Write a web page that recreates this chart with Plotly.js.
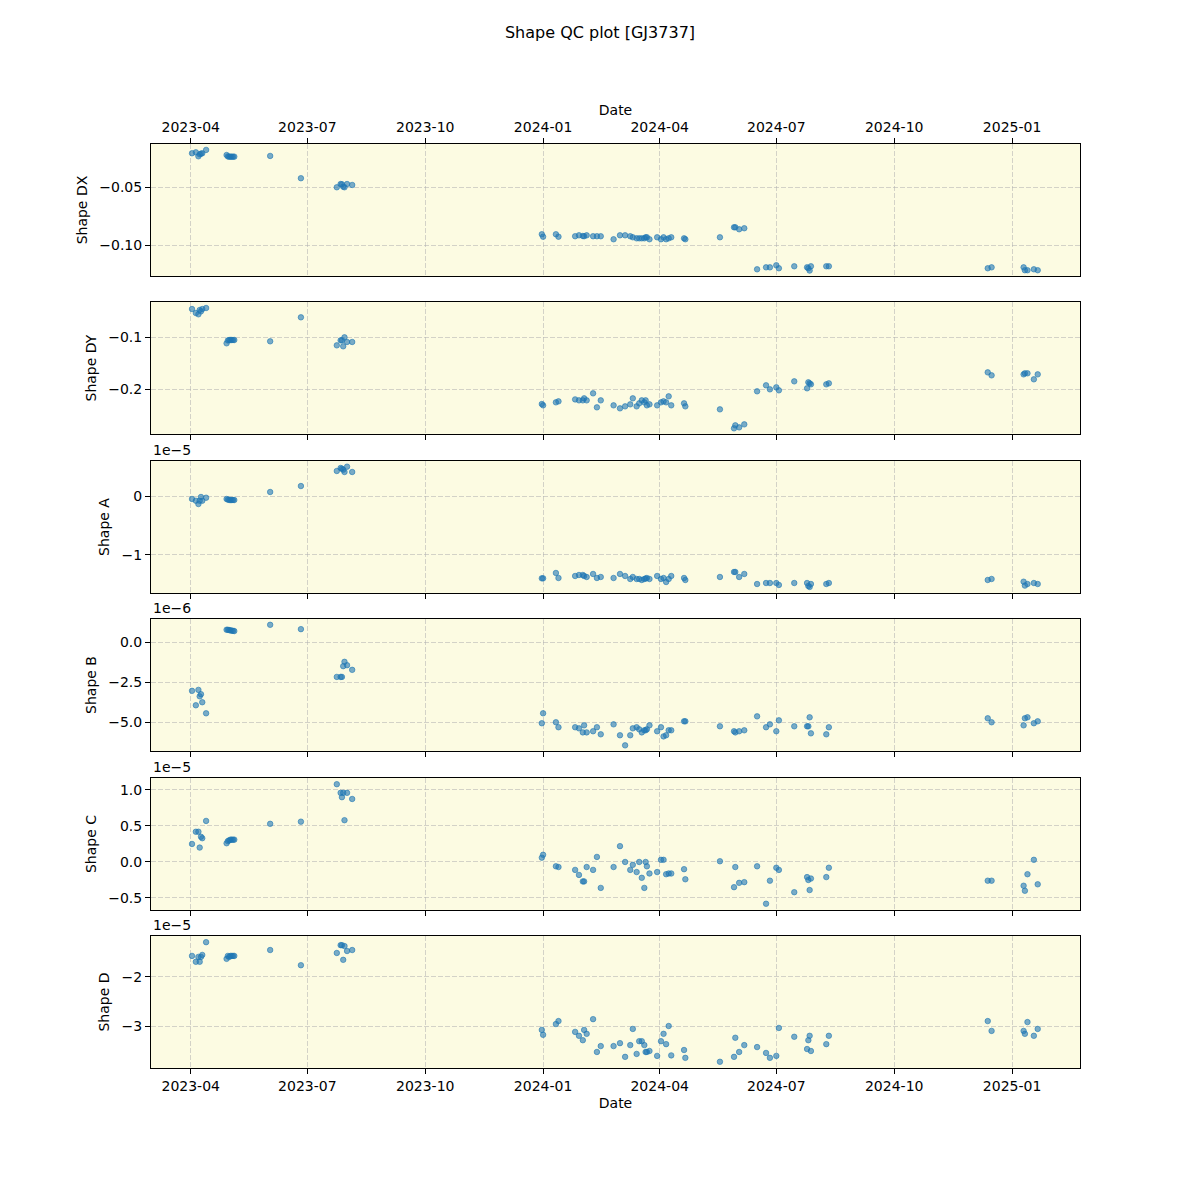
<!DOCTYPE html>
<html>
<head>
<meta charset="utf-8">
<script src="https://cdn.plot.ly/plotly-3.0.1.min.js"></script>
<style>body{margin:0;padding:0;background:#fff;} #chart{width:1200px;height:1200px;}</style>
</head>
<body>
<div id="chart"></div>
<script>
// Observation dates
const dates = [
  '2023-04-02','2023-04-05','2023-04-07','2023-04-08','2023-04-09','2023-04-10','2023-04-13',
  '2023-04-29','2023-04-30','2023-05-01','2023-05-02','2023-05-03','2023-05-04','2023-05-05',
  '2023-06-02','2023-06-26',
  '2023-07-24','2023-07-27','2023-07-28','2023-07-29','2023-07-30','2023-08-01','2023-08-05',
  '2023-12-31','2024-01-01','2024-01-11','2024-01-13','2024-01-26','2024-01-29','2024-02-01','2024-02-02',
  '2024-02-04','2024-02-09','2024-02-12','2024-02-15','2024-02-25','2024-03-01','2024-03-05','2024-03-09',
  '2024-03-11','2024-03-14','2024-03-16','2024-03-18','2024-03-20','2024-03-21','2024-03-22','2024-03-24',
  '2024-03-30','2024-04-02','2024-04-04','2024-04-06','2024-04-08','2024-04-10','2024-04-20','2024-04-21',
  '2024-05-18','2024-05-29','2024-05-30','2024-06-02','2024-06-06','2024-06-16','2024-06-23','2024-06-26',
  '2024-07-01','2024-07-03','2024-07-15','2024-07-25','2024-07-26','2024-07-27','2024-07-28','2024-08-09',
  '2024-08-11','2024-12-13','2024-12-16','2025-01-10','2025-01-11','2025-01-13','2025-01-18','2025-01-21'
];

const shapeDX = [
  -0.0207,-0.0199,-0.0233,-0.0216,-0.0210,-0.0207,-0.0178,
  -0.0222,-0.0234,-0.0236,-0.0236,-0.0236,-0.0236,-0.0236,
  -0.0230,-0.0422,
  -0.0500,-0.0472,-0.0474,-0.0495,-0.0500,-0.0472,-0.0480,
  -0.0905,-0.0926,-0.0905,-0.0926,-0.0922,-0.0914,-0.0920,-0.0922,
  -0.0914,-0.0922,-0.0922,-0.0922,-0.0948,-0.0914,-0.0914,-0.0922,
  -0.0931,-0.0940,-0.0940,-0.0940,-0.0940,-0.0931,-0.0931,-0.0948,
  -0.0931,-0.0948,-0.0931,-0.0948,-0.0940,-0.0931,-0.0940,-0.0948,
  -0.0931,-0.0845,-0.0845,-0.0862,-0.0853,-0.1207,-0.1190,-0.1190,
  -0.1172,-0.1198,-0.1181,-0.1190,-0.1198,-0.1218,-0.1181,-0.1181,
  -0.1181,-0.1198,-0.1190,-0.1190,-0.1215,-0.1215,-0.1207,-0.1215
];

const shapeDY = [
  -0.0453,-0.0530,-0.0555,-0.0472,-0.0497,-0.0453,-0.0433,
  -0.1116,-0.1060,-0.1052,-0.1052,-0.1052,-0.1052,-0.1052,
  -0.1077,-0.0613,
  -0.1155,-0.1058,-0.1058,-0.1174,-0.1000,-0.1090,-0.1090,
  -0.2290,-0.2315,-0.2257,-0.2238,-0.2200,-0.2219,-0.2219,-0.2180,
  -0.2219,-0.2083,-0.2354,-0.2219,-0.2315,-0.2373,-0.2335,-0.2296,
  -0.2180,-0.2335,-0.2277,-0.2219,-0.2257,-0.2219,-0.2315,-0.2296,
  -0.2315,-0.2257,-0.2238,-0.2257,-0.2141,-0.2315,-0.2277,-0.2335,
  -0.2393,-0.2760,-0.2702,-0.2741,-0.2683,-0.2044,-0.1928,-0.2006,
  -0.1967,-0.2025,-0.1851,-0.1986,-0.1870,-0.1890,-0.1909,-0.1909,
  -0.1890,-0.1677,-0.1735,-0.1716,-0.1696,-0.1696,-0.1812,-0.1716
];

// Shape A, in units of 1e-5
const shapeA = [
  -0.051,-0.080,-0.136,-0.080,-0.017,-0.080,-0.029,
  -0.051,-0.060,-0.068,-0.068,-0.068,-0.068,-0.068,
  0.068,0.169,
  0.424,0.475,0.463,0.446,0.407,0.497,0.407,
  -1.396,-1.396,-1.305,-1.390,-1.356,-1.339,-1.339,-1.356,
  -1.373,-1.322,-1.390,-1.373,-1.390,-1.322,-1.356,-1.407,
  -1.373,-1.407,-1.407,-1.424,-1.407,-1.400,-1.390,-1.407,
  -1.356,-1.407,-1.390,-1.458,-1.407,-1.356,-1.390,-1.424,
  -1.373,-1.288,-1.288,-1.373,-1.322,-1.492,-1.475,-1.475,
  -1.475,-1.508,-1.475,-1.475,-1.525,-1.542,-1.492,-1.492,
  -1.475,-1.424,-1.407,-1.453,-1.519,-1.492,-1.475,-1.492
];

// Shape B, in units of 1e-6
const shapeB = [
  -3.04,-3.94,-2.98,-3.38,-3.25,-3.75,-4.44,
  0.77,0.77,0.75,0.73,0.72,0.70,0.69,
  1.08,0.81,
  -2.17,-2.17,-2.17,-1.50,-1.23,-1.44,-1.73,
  -5.06,-4.44,-5.00,-5.31,-5.31,-5.38,-5.63,-5.19,
  -5.63,-5.56,-5.31,-5.75,-5.13,-5.81,-6.44,-5.81,
  -5.38,-5.31,-5.44,-5.63,-5.50,-5.50,-5.44,-5.19,
  -5.56,-5.31,-5.88,-5.81,-5.50,-5.50,-4.94,-4.94,
  -5.25,-5.56,-5.63,-5.56,-5.50,-4.63,-5.31,-5.13,
  -5.56,-4.88,-5.25,-5.25,-5.25,-4.69,-5.69,-5.75,
  -5.31,-4.75,-5.00,-5.19,-4.75,-4.69,-5.06,-4.94
];

// Shape C, in units of 1e-5
const shapeC = [
  0.25,0.42,0.42,0.20,0.35,0.33,0.57,
  0.26,0.29,0.30,0.31,0.31,0.31,0.31,
  0.53,0.56,
  1.08,0.96,0.90,0.96,0.58,0.96,0.875,
  0.06,0.10,-0.06,-0.07,-0.11,-0.18,-0.27,-0.27,
  -0.07,-0.11,0.07,-0.36,-0.07,0.22,0.00,-0.11,
  -0.04,-0.14,0.00,-0.22,-0.36,0.00,-0.06,-0.16,
  -0.14,0.03,0.03,-0.17,-0.16,-0.16,-0.10,-0.24,
  0.01,-0.35,-0.07,-0.29,-0.28,-0.06,-0.58,-0.26,
  -0.08,-0.11,-0.42,-0.21,-0.25,-0.39,-0.23,-0.21,
  -0.08,-0.26,-0.26,-0.33,-0.40,-0.17,0.03,-0.31
];

// Shape D, in units of 1e-5
const shapeD = [
  -1.57,-1.69,-1.59,-1.69,-1.59,-1.55,-1.29,
  -1.63,-1.57,-1.59,-1.57,-1.57,-1.57,-1.57,
  -1.45,-1.76,
  -1.51,-1.35,-1.35,-1.65,-1.37,-1.47,-1.45,
  -3.08,-3.18,-2.96,-2.90,-3.12,-3.20,-3.29,-3.08,
  -3.16,-2.86,-3.53,-3.41,-3.41,-3.35,-3.63,-3.39,
  -3.06,-3.57,-3.31,-3.31,-3.39,-3.53,-3.53,-3.51,
  -3.61,-3.31,-3.16,-3.37,-3.00,-3.60,-3.49,-3.65,
  -3.73,-3.63,-3.24,-3.53,-3.39,-3.43,-3.55,-3.65,
  -3.61,-3.04,-3.22,-3.47,-3.29,-3.20,-3.51,-3.37,
  -3.20,-2.90,-3.10,-3.10,-3.16,-2.92,-3.20,-3.06
];

const panelLabels = ['Shape DX','Shape DY','Shape A','Shape B','Shape C','Shape D'];
const exponentLabels = ['', '', '1e\u22125', '1e\u22126', '1e\u22125', '1e\u22125'];
const series = [shapeDX, shapeDY, shapeA, shapeB, shapeC, shapeD];

const font = 'DejaVu Sans, sans-serif';
const domains = [[0.8571,1.0],[0.6861,0.829],[0.5141,0.6569],[0.3431,0.4859],[0.171,0.3139],[0.0,0.1429]];
const yRanges = [[-0.1265,-0.0127],[-0.287,-0.0317],[-1.644,0.593],[-6.79,1.44],[-0.667,1.167],[-3.857,-1.163]];
const yTicks = [
  {dtick:0.05, tickformat:'.2f', tick0:0},
  {dtick:0.1, tickformat:'.1f', tick0:0},
  {dtick:1, tickformat:'d', tick0:0},
  {dtick:2.5, tickformat:'.1f', tick0:0},
  {dtick:0.5, tickformat:'.1f', tick0:0},
  {dtick:1, tickformat:'d', tick0:0}
];

const traces = [];
const layout = {
  width:1200, height:1200,
  paper_bgcolor:'#ffffff',
  plot_bgcolor:'#fcfbe2',
  margin:{l:151, r:120, t:144, b:132},
  showlegend:false,
  font:{family:font, size:14, color:'#000'},
  title:{text:'Shape QC plot [GJ3737]', x:0.5, xanchor:'center', y:1-32/1200, yanchor:'middle', font:{family:font, size:16, color:'#000'}},
  annotations:[]
};

const gridColor = 'rgba(176,176,176,0.55)';

for (let i = 0; i < 6; i++) {
  const n = i === 0 ? '' : String(i+1);
  traces.push({
    type:'scatter', mode:'markers',
    x: dates, y: series[i],
    xaxis:'x'+n, yaxis:'y'+n,
    marker:{color:'rgba(31,119,180,0.6)', size:5.5, line:{color:'rgba(31,119,180,0.75)', width:0.8}},
    hoverinfo:'skip'
  });
  const xa = {
    domain:[0,1], anchor:'y'+n,
    type:'date',
    range:['2023-03-01','2025-02-23'],
    tick0:'2023-01-01', dtick:'M3', tickformat:'%Y-%m',
    showgrid:true, gridcolor:gridColor, griddash:'5px,2px', gridwidth:1,
    showline:true, linecolor:'#000', linewidth:1, mirror:true,
    ticks:'outside', ticklen:5, tickcolor:'#000', tickwidth:1,
    zeroline:false,
    tickfont:{family:font, size:14, color:'#000'}
  };
  if (i > 0) xa.matches = 'x';
  if (i === 0) {
    xa.side = 'top';
    xa.showticklabels = true;
    xa.title = {text:'Date', font:{family:font, size:14, color:'#000'}, standoff:0};
  } else if (i === 5) {
    xa.showticklabels = true;
    xa.title = {text:'Date', font:{family:font, size:14, color:'#000'}, standoff:5};
  } else {
    xa.showticklabels = false;
  }
  layout['xaxis'+n] = xa;
  layout['yaxis'+n] = Object.assign({
    domain:domains[i], anchor:'x'+n,
    range:yRanges[i],
    showgrid:true, gridcolor:gridColor, griddash:'5px,2px', gridwidth:1,
    showline:true, linecolor:'#000', linewidth:1, mirror:true,
    ticks:'outside', ticklen:5, tickcolor:'#000', tickwidth:1,
    zeroline:false,
    tickfont:{family:font, size:14, color:'#000'},
    title:{text:panelLabels[i], font:{family:font, size:14, color:'#000'}, standoff:8}
  }, yTicks[i]);
  if (exponentLabels[i]) {
    layout.annotations.push({
      text:exponentLabels[i], xref:'paper', yref:'paper',
      x:0, y:domains[i][1], xanchor:'left', yanchor:'bottom', yshift:1,
      showarrow:false, font:{family:font, size:14, color:'#000'}
    });
  }
}

Plotly.newPlot('chart', traces, layout, {staticPlot:true, displayModeBar:false});
</script>
</body>
</html>
